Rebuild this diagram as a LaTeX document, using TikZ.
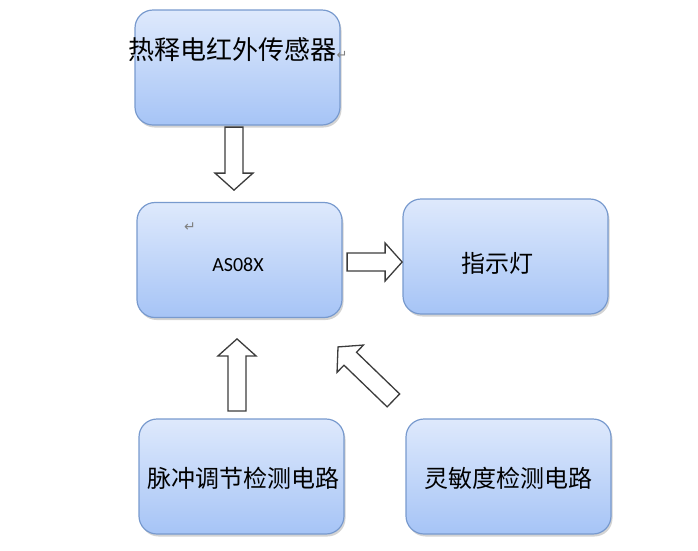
\documentclass[tikz,border=0pt]{standalone}
\usepackage{fontspec}
\newfontfamily\cjk{Noto Sans CJK SC}
\newfontfamily\latin{Carlito}
\newfontfamily\symb{DejaVu Sans}
\usepackage{tikz}
\usetikzlibrary{positioning, calc, shadows}
\definecolor{boxedge}{RGB}{120,154,206}
\definecolor{boxtop}{RGB}{222,233,252}
\definecolor{boxbot}{RGB}{166,196,246}
\definecolor{arrowgray}{RGB}{60,60,60}

\begin{document}
\begin{tikzpicture}[x=1pt, y=1pt,
    box/.style={draw=boxedge, line width=1.2pt, rounded corners=18pt,
        top color=boxtop, bottom color=boxbot,
        minimum width=205pt, minimum height=115pt,
        drop shadow={shadow xshift=1.5pt, shadow yshift=-2.5pt, opacity=0.35}},
    txt/.style={font=\cjk\fontsize{24}{28}\selectfont},
    hollowline/.style={draw=arrowgray, line width=1.3pt, fill=white},
    pics/hollow/.style={code={
        \draw[hollowline] (0,-9) -- (#1-17,-9) -- (#1-17,-19) -- (#1,0)
            -- (#1-17,19) -- (#1-17,9) -- (0,9) -- cycle;}}]
    \useasboundingbox (0,0) rectangle (698,-550);

    % Boxes
    \node[box] (sensor) at (237.5,-67.5) {};
    \node[box] (chip) at (239.5,-260) {};
    \node[box] (lamp) at (505.5,-256.5) {};
    \node[box] (pulse) at (241.5,-476.5) {};
    \node[box] (sens) at (508.5,-476.5) {};

    % Texts
    \node[font=\cjk\fontsize{26}{30}\selectfont, inner sep=0pt] (sensortxt) at (238,-50)
        {热释电红外传感器{\symb\fontsize{13}{14}\selectfont\color{gray}↵}};
    \node[font=\symb\fontsize{14}{16}\selectfont, text=gray] (chipret) at (190,-227) {↵};
    \node[font=\latin\fontsize{20}{24}\selectfont] (chiptxt) at (238,-265) {AS08X};
    \node[txt] (lamptxt) at (497,-263) {指示灯};
    \node[txt] (pulsetxt) at (243,-478) {脉冲调节检测电路};
    \node[txt] (senstxt) at (508,-478) {灵敏度检测电路};

    % Arrows
    \pic[rotate=-90] at ($(sensor.south)+(-3.5,-1.5)$) {hollow=63};
    \pic at ($(chip.east)+(4.5,-2)$) {hollow=55};
    \pic[rotate=90] at ($(pulse.north)+(-4.5,7.5)$) {hollow=72};
    \pic[rotate=136] at ($(sens.north west)+(-12,18)$) {hollow=77};
\end{tikzpicture}
\end{document}
